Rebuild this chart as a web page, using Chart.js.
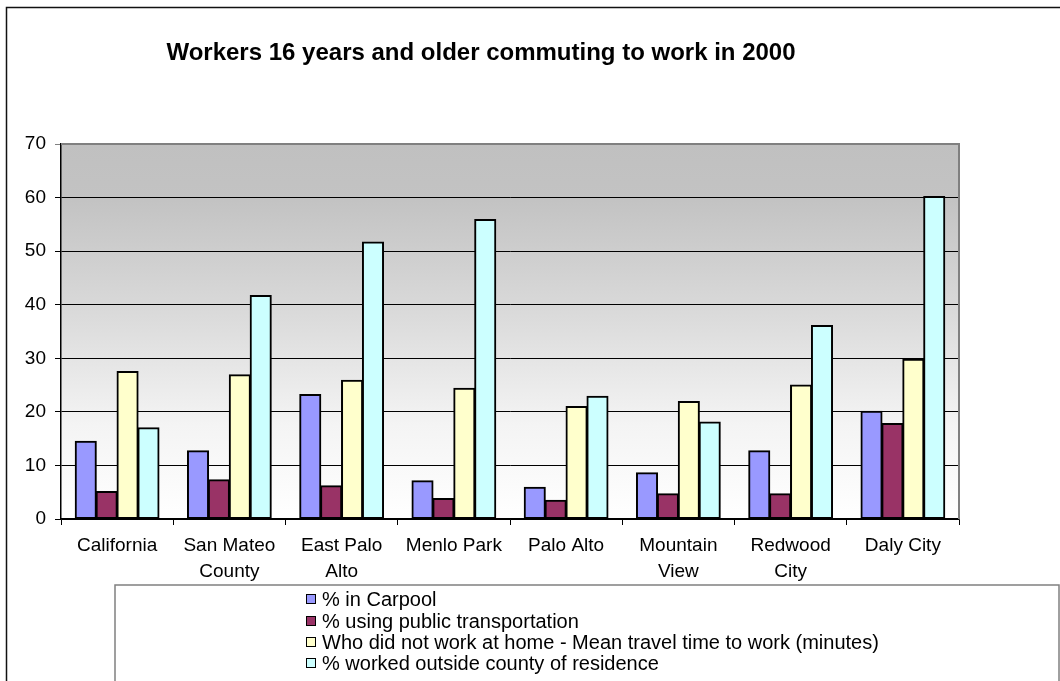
<!DOCTYPE html>
<html>
<head>
<meta charset="utf-8">
<title>Workers 16 years and older commuting to work in 2000</title>
<script src="https://cdn.jsdelivr.net/npm/chart.js@4"></script>
<style>
    html, body { margin: 0; padding: 0; background: #fff; overflow: hidden; }
    #chart { display: block; }
</style>
</head>
<body>
<canvas id="chart" width="1060" height="681"></canvas>
<script>
const chartTitle = "Workers 16 years and older commuting to work in 2000";

const places = [
    "California",
    ["San Mateo", "County"],
    ["East Palo", "Alto"],
    "Menlo Park",
    "Palo Alto",
    ["Mountain", "View"],
    ["Redwood", "City"],
    "Daly City",
];

const seriesNames = [
    "% in Carpool",
    "% using public transportation",
    "Who did not work at home - Mean travel time to work (minutes)",
    "% worked outside county of residence",
];

const carpool = [14.5, 12.7, 23.2, 7.1, 5.9, 8.6, 12.7, 20.1];
const publicTransit = [5.1, 7.3, 6.2, 3.8, 3.5, 4.7, 4.7, 17.8];
const travelTime = [27.5, 26.9, 25.9, 24.4, 21.0, 21.9, 25.0, 29.8];
const outsideCounty = [17.0, 41.7, 51.7, 55.9, 22.9, 18.1, 36.1, 60.2];

const yTicks = [0, 10, 20, 30, 40, 50, 60, 70];

const seriesColors = ["#9999ff", "#993366", "#ffffcc", "#ccffff"];
const FONT = "Arial, 'Liberation Sans', sans-serif";

// Background, Excel-style grey gradient plot area and the outer frame.
const backdrop = {
    id: "backdrop",
    beforeDraw(chart) {
        const { ctx, chartArea: a } = chart;
        ctx.save();
        ctx.fillStyle = "#fff";
        ctx.fillRect(0, 0, chart.width, chart.height);

        const g = ctx.createLinearGradient(0, a.top, 0, a.bottom);
        g.addColorStop(0, "#c0c0c0");
        g.addColorStop(0.15, "#c3c3c3");
        g.addColorStop(0.45, "#dadada");
        g.addColorStop(0.75, "#f4f4f4");
        g.addColorStop(1, "#ffffff");
        ctx.fillStyle = g;
        ctx.fillRect(a.left, a.top, a.right - a.left, a.bottom - a.top);

        ctx.strokeStyle = "#111";
        ctx.lineWidth = 1.5;
        ctx.beginPath();
        ctx.moveTo(6.5, chart.height + 2);
        ctx.lineTo(6.5, 7.5);
        ctx.lineTo(chart.width + 2, 7.5);
        ctx.stroke();
        ctx.restore();
    },
    afterDraw(chart) {
        const { ctx, chartArea: a } = chart;
        ctx.save();

        // grey plot border on the top and right sides
        ctx.strokeStyle = "#808080";
        ctx.lineWidth = 2;
        ctx.beginPath();
        ctx.moveTo(a.left, a.top);
        ctx.lineTo(a.right, a.top);
        ctx.lineTo(a.right, a.bottom);
        ctx.stroke();

        ctx.fillStyle = "#000";
        ctx.font = `bold 24px ${FONT}`;
        ctx.textAlign = "center";
        ctx.textBaseline = "alphabetic";
        ctx.fillText(chartTitle, 481, 60);

        drawLegend(chart);
        ctx.restore();
    },
};

function drawLegend(chart) {
    const ctx = chart.ctx;
    ctx.strokeStyle = "#808080";
    ctx.lineWidth = 1.5;
    ctx.strokeRect(115, 585, 944, 120);

    const rows = [599, 621, 642, 663];
    ctx.font = `20px ${FONT}`;
    ctx.textAlign = "left";
    ctx.textBaseline = "middle";
    chart.data.datasets.forEach((ds, i) => {
        const y = rows[i];
        ctx.fillStyle = ds.backgroundColor;
        ctx.fillRect(306, y - 5, 10, 10);
        ctx.strokeStyle = "#000";
        ctx.lineWidth = 1;
        ctx.strokeRect(306.5, y - 4.5, 9, 9);
        ctx.fillStyle = "#000";
        ctx.fillText(ds.label, 322, y + 1);
    });
}

const seriesValues = [carpool, publicTransit, travelTime, outsideCounty];

new Chart(document.getElementById("chart"), {
    type: "bar",
    data: {
        labels: places,
        datasets: seriesValues.map((values, i) => ({
            label: seriesNames[i],
            data: values,
            backgroundColor: seriesColors[i],
            borderColor: "#000",
            borderWidth: 2,
            borderSkipped: false,
            inflateAmount: 0.6,
            categoryPercentage: 0.745,
            barPercentage: 1,
        })),
    },
    plugins: [backdrop],
    options: {
        responsive: false,
        devicePixelRatio: 1,
        animation: false,
        layout: { padding: { top: 144, right: 101, left: 0, bottom: 0 } },
        plugins: {
            legend: { display: false },
            title: { display: false },
            tooltip: { enabled: false },
        },
        scales: {
            x: {
                grid: {
                    display: true,
                    drawOnChartArea: false,
                    drawTicks: true,
                    tickLength: 6,
                    color: "#000",
                    offset: true,
                },
                border: { color: "#000", width: 1.5 },
                ticks: {
                    color: "#000",
                    font: { family: FONT, size: 19, lineHeight: 1.37 },
                    padding: 8,
                    maxRotation: 0,
                    autoSkip: false,
                },
                afterFit(scale) { scale.height = 162; },
            },
            y: {
                min: 0,
                max: 70,
                afterBuildTicks(scale) { scale.ticks = yTicks.map((v) => ({ value: v })); },
                grid: {
                    color: (c) => (c.tick && c.tick.value === 70 ? "#808080" : "#000"),
                    lineWidth: 1,
                    drawTicks: true,
                    tickLength: 6,
                },
                border: { color: "#000", width: 1.5 },
                ticks: {
                    color: "#000",
                    font: { family: FONT, size: 19 },
                    padding: 9,
                },
                afterFit(scale) { scale.width = 61; },
            },
        },
    },
});
</script>
</body>
</html>
